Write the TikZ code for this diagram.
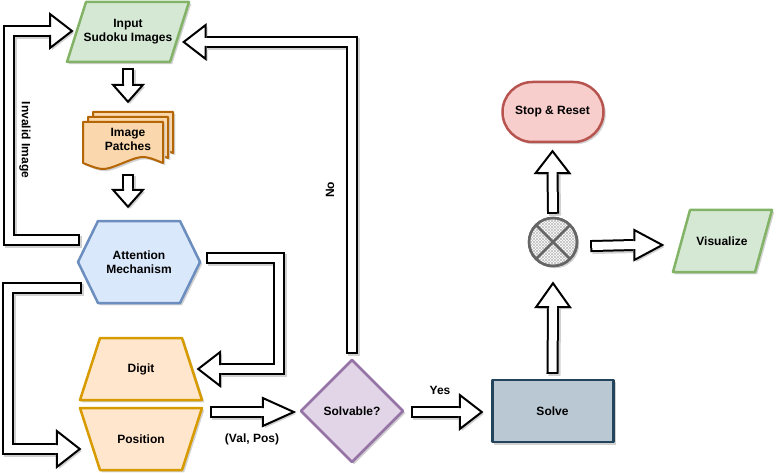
\documentclass[tikz,border=0pt]{standalone}
\usepackage{fontspec}
\setmainfont{Liberation Sans}
\usetikzlibrary{calc,patterns}
\pgfdeclarelayer{bg}
\pgfsetlayers{bg,main}
\definecolor{grnF}{HTML}{D5E8D4}\definecolor{grnD}{HTML}{82B366}
\definecolor{docF}{HTML}{FAD7AC}\definecolor{docD}{HTML}{B46504}
\definecolor{bluF}{HTML}{DAE8FC}\definecolor{bluD}{HTML}{6C8EBF}
\definecolor{orgF}{HTML}{FFE6CC}\definecolor{orgD}{HTML}{D79B00}
\definecolor{purF}{HTML}{E1D5E7}\definecolor{purD}{HTML}{9673A6}
\definecolor{slvF}{HTML}{BAC8D3}\definecolor{slvD}{HTML}{23445D}
\definecolor{redF}{HTML}{F8CECC}\definecolor{redD}{HTML}{B85450}
\definecolor{sumD}{HTML}{666666}
\tikzset{
  lbl/.style={font=\fontsize{12}{14}\selectfont\bfseries, align=center, inner sep=0pt},
  shp/.style={line width=2.5pt, line join=round,
    preaction={fill=black!18, draw=black!18, transform canvas={shift={(2pt,-2pt)}}}},
  ashad/.style={line width=12pt, black!18, shorten <=-2pt, transform canvas={shift={(2pt,-2pt)}}},
}
\newcommand\bigarrow[5]{%
  \pgfmathsetmacro\bkang{#3+180}%
  \coordinate (hb) at ($(#2)+(\bkang:#4)$);
  \draw[ashad] #1 (hb);
  \fill[black!18, transform canvas={shift={(2pt,-2pt)}}, shift={(hb)}, rotate=#3] (0,-#5) -- (#4,0) -- (0,#5) -- cycle;
  \draw[line width=12pt, shorten <=-2pt, shorten >=-2pt] #1 (hb);
  \draw[line width=8pt, white] #1 (hb);
  \fill[white, shift={(hb)}, rotate=#3] (-1,-#5) -- (#4,0) -- (-1,#5) -- cycle;
  \draw[line width=2pt, shift={(hb)}, rotate=#3] (0,-4) -- (0,-#5) -- (#4,0) -- (0,#5) -- (0,4);
}
\begin{document}
\begin{tikzpicture}[x=1pt,y=1pt]
\useasboundingbox (0,0) rectangle (776,-473);
% nodes (text)
\node[lbl, minimum width=121pt, minimum height=60pt] (inp) at (128,-32) {Input\\Sudoku Images};
\node[lbl, minimum width=90pt, minimum height=58pt] (pat) at (128,-139) {Image\\Patches};
\node[lbl, minimum width=122pt, minimum height=82pt] (att) at (139,-262) {Attention\\Mechanism};
\node[lbl, minimum width=122pt, minimum height=62pt] (dig) at (141,-369) {Digit};
\node[lbl, minimum width=122pt, minimum height=62pt] (pos) at (141,-439) {Position};
\node[lbl, minimum width=102pt, minimum height=102pt] (sol) at (352,-411) {Solvable?};
\node[lbl, minimum width=121pt, minimum height=62pt] (slv) at (552.5,-411) {Solve};
\node[lbl, minimum width=48pt, minimum height=48pt] (sum) at (553,-242) {};
\node[lbl, minimum width=101pt, minimum height=60pt] (stp) at (552.5,-112) {Stop \& Reset};
\node[lbl, minimum width=99pt, minimum height=62pt] (vis) at (722,-241) {Visualize};
% shapes
\begin{pgfonlayer}{bg}
\fill[white] (0,0) rectangle (776,-473);
\draw[shp, fill=grnF, draw=grnD, shift={(inp.center)}] (-42,30) -- (61,30) -- (42,-30) -- (-61,-30) -- cycle;
\foreach \d in {10,5,0}
  \draw[shp, line width=2pt, fill=docF, draw=docD, shift={(pat.center)}, xshift=\d pt, yshift=\d pt]
    (-45,17) -- (35,17) -- (35,-24) .. controls (15,-16) .. (-5,-24) .. controls (-25,-32) .. (-45,-24) -- cycle;
\draw[shp, fill=bluF, draw=bluD, shift={(att.center)}] (-61,0) -- (-41,41) -- (41,41) -- (61,0) -- (41,-41) -- (-41,-41) -- cycle;
\draw[shp, fill=orgF, draw=orgD, shift={(dig.center)}] (-41,31) -- (41,31) -- (61,-31) -- (-61,-31) -- cycle;
\draw[shp, fill=orgF, draw=orgD, shift={(pos.center)}] (-61,31) -- (61,31) -- (41,-31) -- (-41,-31) -- cycle;
\draw[shp, fill=purF, draw=purD, shift={(sol.center)}] (0,51) -- (51,0) -- (0,-51) -- (-51,0) -- cycle;
\draw[shp, fill=slvF, draw=slvD, shift={(slv.center)}] (-60,31) rectangle (61,-31);
\draw[shp, fill=redF, draw=redD, rounded corners=30pt, shift={(stp.center)}] (-50,30) rectangle (51,-30);
\draw[shp, fill=grnF, draw=grnD, shift={(vis.center)}] (-32,31) -- (50,31) -- (33,-31) -- (-49,-31) -- cycle;
\draw[shp, fill=white, draw=sumD, shift={(sum.center)}] (0,0) circle (24);
\fill[pattern=north east lines, pattern color=black!25, shift={(sum.center)}] (0,0) circle (23);
\fill[pattern=north west lines, pattern color=black!25, shift={(sum.center)}] (0,0) circle (23);
\draw[line width=2.5pt, draw=sumD, shift={(sum.center)}] (0,0) circle (24) (45:24) -- (225:24) (135:24) -- (-45:24);
\end{pgfonlayer}
% connectors
\coordinate (a1s) at ($(inp.south)+(0,-8)$);
\coordinate (a1t) at ($(pat.north)+(0,8)$);
\bigarrow{(a1s) --}{a1t}{-90}{17}{15}
\coordinate (a2s) at ($(pat.south)+(0,-8)$);
\coordinate (a2t) at ($(a2s |- att.north)+(0,14)$);
\bigarrow{(a2s) --}{a2t}{-90}{17}{15}
\coordinate (a3s) at ($(att.west)+(0,22)$);
\coordinate (a3t) at ($(inp.center)+(-56,1)$);
\bigarrow{(a3s) -- ++(-69,0) |-}{a3t}{0}{22}{17}
\coordinate (a4s) at ($(att.west)+(2,-26)$);
\coordinate (a4t) at ($(pos.west)+(0,-10)$);
\bigarrow{(a4s) -- ++(-72,0) |-}{a4t}{0}{23}{18}
\coordinate (a5s) at ($(att.east)+(8,4)$);
\coordinate (a5t) at ($(dig.east)+(-4,0)$);
\bigarrow{(a5s) -- ++(71,0) |-}{a5t}{180}{22}{17}
\coordinate (a6t) at ($(sol.west)+(-7,-1)$);
\coordinate (a6s) at ($(a6t -| pos.east)+(10,0)$);
\bigarrow{(a6s) --}{a6t}{0}{31}{14}
\coordinate (a7s) at ($(sol.north)+(0,8)$);
\coordinate (a7t) at ($(inp.east)+(-5,-10)$);
\bigarrow{(a7s) |-}{a7t}{180}{22}{17}
\coordinate (a8s) at ($(sol.east)+(10,-1)$);
\coordinate (a8t) at ($(slv.west)+(-10,-1)$);
\bigarrow{(a8s) --}{a8t}{0}{22}{17}
\coordinate (a9s) at ($(slv.north)+(0,8)$);
\coordinate (a9t) at ($(sum.south)+(0,-17)$);
\bigarrow{(a9s) --}{a9t}{90}{24}{17}
\coordinate (a10s) at ($(sum.north)+(0,6)$);
\coordinate (a10t) at ($(stp.south)+(0,-9)$);
\bigarrow{(a10s) --}{a10t}{90}{22}{17}
\coordinate (a11s) at ($(sum.east)+(15,-4)$);
\coordinate (a11t) at ($(vis.west)+(-10,-4)$);
\bigarrow{(a11s) --}{a11t}{0}{28}{15}
% connector labels
\node[lbl, rotate=-90] (lInv) at (25,-140) {Invalid Image};
\node[lbl, rotate=90] (lNo) at (330,-190) {No};
\node[lbl] (lVP) at (252,-439) {(Val, Pos)};
\node[lbl] (lYes) at (440,-390) {Yes};
\end{tikzpicture}
\end{document}
